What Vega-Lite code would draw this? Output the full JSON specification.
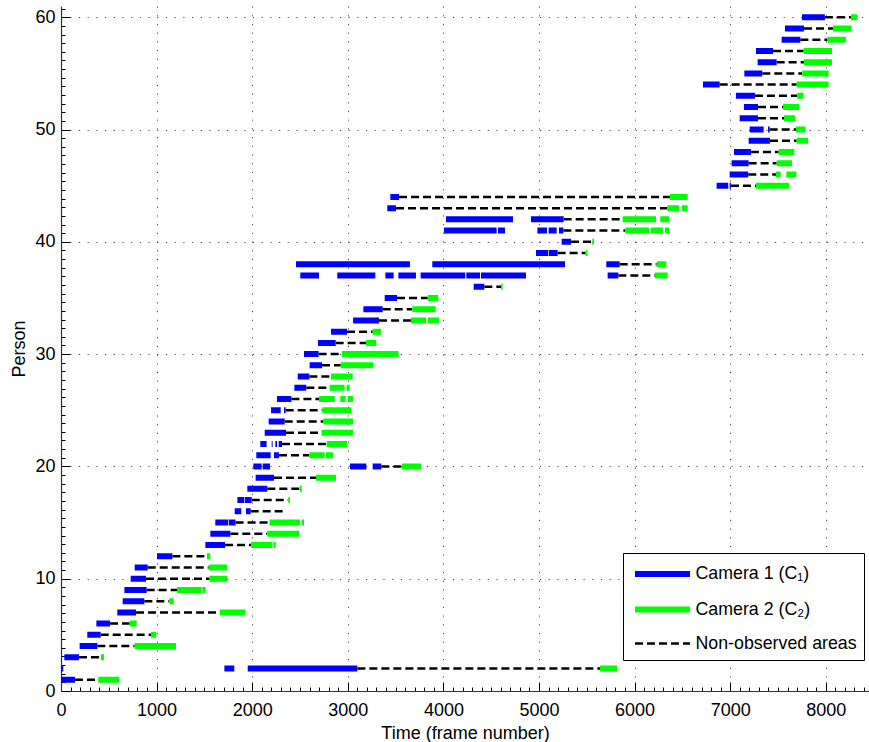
{
 "$schema": "https://vega.github.io/schema/vega-lite/v6.json",
 "width": 808, "height": 685,
 "autosize": "none",
 "padding": {"left": 61, "top": 6, "right": 0, "bottom": 51},
 "config": {"view": {"stroke": null}, "font": "Liberation Sans"},
 "data": {"values": [
  {"p":1,"s":146,"e":390,"t":"N"},{"p":1,"s":0,"e":146,"t":"C1"},{"p":1,"s":390,"e":610,"t":"C2"},
  {"p":2,"s":3100,"e":5638,"t":"N"},{"p":2,"s":0,"e":24,"t":"C1"},{"p":2,"s":1709,"e":1813,"t":"C1"},{"p":2,"s":1953,"e":3100,"t":"C1"},{"p":2,"s":5638,"e":5816,"t":"C2"},
  {"p":3,"s":188,"e":418,"t":"N"},{"p":3,"s":35,"e":188,"t":"C1"},{"p":3,"s":418,"e":450,"t":"C2"},
  {"p":4,"s":380,"e":771,"t":"N"},{"p":4,"s":195,"e":380,"t":"C1"},{"p":4,"s":771,"e":1203,"t":"C2"},
  {"p":5,"s":415,"e":941,"t":"N"},{"p":5,"s":275,"e":415,"t":"C1"},{"p":5,"s":941,"e":997,"t":"C2"},
  {"p":6,"s":513,"e":718,"t":"N"},{"p":6,"s":370,"e":513,"t":"C1"},{"p":6,"s":718,"e":792,"t":"C2"},
  {"p":7,"s":785,"e":1660,"t":"N"},{"p":7,"s":589,"e":785,"t":"C1"},{"p":7,"s":1660,"e":1925,"t":"C2"},
  {"p":8,"s":872,"e":1133,"t":"N"},{"p":8,"s":645,"e":872,"t":"C1"},{"p":8,"s":1133,"e":1179,"t":"C2"},
  {"p":9,"s":896,"e":1213,"t":"N"},{"p":9,"s":663,"e":896,"t":"C1"},{"p":9,"s":1213,"e":1471,"t":"C2"},{"p":9,"s":1478,"e":1513,"t":"C2"},
  {"p":10,"s":889,"e":1552,"t":"N"},{"p":10,"s":729,"e":889,"t":"C1"},{"p":10,"s":1552,"e":1737,"t":"C2"},
  {"p":11,"s":907,"e":1545,"t":"N"},{"p":11,"s":771,"e":907,"t":"C1"},{"p":11,"s":1545,"e":1737,"t":"C2"},
  {"p":12,"s":1165,"e":1527,"t":"N"},{"p":12,"s":1004,"e":1165,"t":"C1"},{"p":12,"s":1527,"e":1562,"t":"C2"},
  {"p":13,"s":1716,"e":1988,"t":"N"},{"p":13,"s":1510,"e":1716,"t":"C1"},{"p":13,"s":1988,"e":2212,"t":"C2"},{"p":13,"s":2222,"e":2246,"t":"C2"},
  {"p":14,"s":1771,"e":2158,"t":"N"},{"p":14,"s":1562,"e":1771,"t":"C1"},{"p":14,"s":2158,"e":2493,"t":"C2"},
  {"p":15,"s":1826,"e":2182,"t":"N"},{"p":15,"s":1614,"e":1750,"t":"C1"},{"p":15,"s":1757,"e":1826,"t":"C1"},{"p":15,"s":2182,"e":2500,"t":"C2"},{"p":15,"s":2516,"e":2542,"t":"C2"},
  {"p":16,"s":1984,"e":2361,"t":"N"},{"p":16,"s":1817,"e":1886,"t":"C1"},{"p":16,"s":1935,"e":1984,"t":"C1"},
  {"p":17,"s":1995,"e":2378,"t":"N"},{"p":17,"s":1845,"e":1918,"t":"C1"},{"p":17,"s":1925,"e":1995,"t":"C1"},{"p":17,"s":2378,"e":2395,"t":"C2"},
  {"p":18,"s":2158,"e":2500,"t":"N"},{"p":18,"s":1949,"e":2158,"t":"C1"},{"p":18,"s":2500,"e":2518,"t":"C2"},
  {"p":19,"s":2228,"e":2668,"t":"N"},{"p":19,"s":2036,"e":2228,"t":"C1"},{"p":19,"s":2668,"e":2877,"t":"C2"},
  {"p":20,"s":3351,"e":3567,"t":"N"},{"p":20,"s":2012,"e":2099,"t":"C1"},{"p":20,"s":2110,"e":2186,"t":"C1"},{"p":20,"s":3023,"e":3194,"t":"C1"},{"p":20,"s":3260,"e":3351,"t":"C1"},{"p":20,"s":3567,"e":3766,"t":"C2"},
  {"p":21,"s":2280,"e":2598,"t":"N"},{"p":21,"s":2043,"e":2193,"t":"C1"},{"p":21,"s":2228,"e":2280,"t":"C1"},{"p":21,"s":2598,"e":2758,"t":"C2"},{"p":21,"s":2772,"e":2845,"t":"C2"},
  {"p":22,"s":2312,"e":2779,"t":"N"},{"p":22,"s":2085,"e":2151,"t":"C1"},{"p":22,"s":2204,"e":2214,"t":"C1"},{"p":22,"s":2242,"e":2260,"t":"C1"},{"p":22,"s":2277,"e":2312,"t":"C1"},{"p":22,"s":2779,"e":2995,"t":"C2"},
  {"p":23,"s":2354,"e":2727,"t":"N"},{"p":23,"s":2131,"e":2354,"t":"C1"},{"p":23,"s":2727,"e":3055,"t":"C2"},
  {"p":24,"s":2340,"e":2744,"t":"N"},{"p":24,"s":2172,"e":2340,"t":"C1"},{"p":24,"s":2744,"e":3055,"t":"C2"},
  {"p":25,"s":2350,"e":2734,"t":"N"},{"p":25,"s":2197,"e":2298,"t":"C1"},{"p":25,"s":2333,"e":2350,"t":"C1"},{"p":25,"s":2734,"e":3037,"t":"C2"},
  {"p":26,"s":2410,"e":2699,"t":"N"},{"p":26,"s":2259,"e":2410,"t":"C1"},{"p":26,"s":2699,"e":2863,"t":"C2"},{"p":26,"s":2922,"e":2978,"t":"C2"},{"p":26,"s":2999,"e":3055,"t":"C2"},
  {"p":27,"s":2566,"e":2810,"t":"N"},{"p":27,"s":2441,"e":2566,"t":"C1"},{"p":27,"s":2810,"e":2967,"t":"C2"},{"p":27,"s":2988,"e":3020,"t":"C2"},
  {"p":28,"s":2598,"e":2824,"t":"N"},{"p":28,"s":2476,"e":2598,"t":"C1"},{"p":28,"s":2824,"e":3051,"t":"C2"},
  {"p":29,"s":2730,"e":2926,"t":"N"},{"p":29,"s":2601,"e":2730,"t":"C1"},{"p":29,"s":2926,"e":3267,"t":"C2"},
  {"p":30,"s":2695,"e":2940,"t":"N"},{"p":30,"s":2542,"e":2695,"t":"C1"},{"p":30,"s":2940,"e":3532,"t":"C2"},
  {"p":31,"s":2873,"e":3191,"t":"N"},{"p":31,"s":2688,"e":2873,"t":"C1"},{"p":31,"s":3191,"e":3299,"t":"C2"},
  {"p":32,"s":2992,"e":3260,"t":"N"},{"p":32,"s":2824,"e":2992,"t":"C1"},{"p":32,"s":3260,"e":3347,"t":"C2"},
  {"p":33,"s":3327,"e":3661,"t":"N"},{"p":33,"s":3055,"e":3327,"t":"C1"},{"p":33,"s":3661,"e":3818,"t":"C2"},{"p":33,"s":3839,"e":3954,"t":"C2"},
  {"p":34,"s":3365,"e":3675,"t":"N"},{"p":34,"s":3163,"e":3365,"t":"C1"},{"p":34,"s":3675,"e":3919,"t":"C2"},
  {"p":35,"s":3515,"e":3836,"t":"N"},{"p":35,"s":3386,"e":3515,"t":"C1"},{"p":35,"s":3836,"e":3947,"t":"C2"},
  {"p":36,"s":4428,"e":4603,"t":"N"},{"p":36,"s":4317,"e":4428,"t":"C1"},{"p":36,"s":4603,"e":4620,"t":"C2"},
  {"p":37,"s":5830,"e":6213,"t":"N"},{"p":37,"s":2503,"e":2699,"t":"C1"},{"p":37,"s":2890,"e":3288,"t":"C1"},{"p":37,"s":3393,"e":3480,"t":"C1"},{"p":37,"s":3529,"e":3713,"t":"C1"},{"p":37,"s":3762,"e":4229,"t":"C1"},{"p":37,"s":4240,"e":4383,"t":"C1"},{"p":37,"s":4393,"e":4864,"t":"C1"},{"p":37,"s":5718,"e":5830,"t":"C1"},{"p":37,"s":6213,"e":6346,"t":"C2"},
  {"p":38,"s":5844,"e":6231,"t":"N"},{"p":38,"s":2458,"e":3650,"t":"C1"},{"p":38,"s":3884,"e":5272,"t":"C1"},{"p":38,"s":5704,"e":5844,"t":"C1"},{"p":38,"s":6231,"e":6332,"t":"C2"},
  {"p":39,"s":5195,"e":5488,"t":"N"},{"p":39,"s":4969,"e":5094,"t":"C1"},{"p":39,"s":5101,"e":5195,"t":"C1"},{"p":39,"s":5488,"e":5506,"t":"C2"},
  {"p":40,"s":5335,"e":5558,"t":"N"},{"p":40,"s":5237,"e":5335,"t":"C1"},{"p":40,"s":5558,"e":5575,"t":"C2"},
  {"p":41,"s":5255,"e":5903,"t":"N"},{"p":41,"s":4006,"e":4557,"t":"C1"},{"p":41,"s":4571,"e":4644,"t":"C1"},{"p":41,"s":4983,"e":5084,"t":"C1"},{"p":41,"s":5101,"e":5185,"t":"C1"},{"p":41,"s":5209,"e":5255,"t":"C1"},{"p":41,"s":5903,"e":6151,"t":"C2"},{"p":41,"s":6168,"e":6297,"t":"C2"},{"p":41,"s":6318,"e":6360,"t":"C2"},
  {"p":42,"s":5258,"e":5875,"t":"N"},{"p":42,"s":4027,"e":4728,"t":"C1"},{"p":42,"s":4916,"e":5258,"t":"C1"},{"p":42,"s":5875,"e":6224,"t":"C2"},{"p":42,"s":6269,"e":6360,"t":"C2"},
  {"p":43,"s":3504,"e":6342,"t":"N"},{"p":43,"s":3413,"e":3504,"t":"C1"},{"p":43,"s":6342,"e":6465,"t":"C2"},{"p":43,"s":6496,"e":6555,"t":"C2"},
  {"p":44,"s":3536,"e":6370,"t":"N"},{"p":44,"s":3445,"e":3536,"t":"C1"},{"p":44,"s":6370,"e":6555,"t":"C2"},
  {"p":45,"s":7008,"e":7270,"t":"N"},{"p":45,"s":6858,"e":6980,"t":"C1"},{"p":45,"s":6994,"e":7008,"t":"C1"},{"p":45,"s":7270,"e":7615,"t":"C2"},
  {"p":46,"s":7189,"e":7479,"t":"N"},{"p":46,"s":6994,"e":7189,"t":"C1"},{"p":46,"s":7479,"e":7528,"t":"C2"},{"p":46,"s":7587,"e":7692,"t":"C2"},
  {"p":47,"s":7193,"e":7486,"t":"N"},{"p":47,"s":7015,"e":7193,"t":"C1"},{"p":47,"s":7486,"e":7646,"t":"C2"},
  {"p":48,"s":7217,"e":7507,"t":"N"},{"p":48,"s":7040,"e":7217,"t":"C1"},{"p":48,"s":7507,"e":7671,"t":"C2"},
  {"p":49,"s":7416,"e":7695,"t":"N"},{"p":49,"s":7193,"e":7416,"t":"C1"},{"p":49,"s":7695,"e":7814,"t":"C2"},
  {"p":50,"s":7413,"e":7688,"t":"N"},{"p":50,"s":7204,"e":7350,"t":"C1"},{"p":50,"s":7395,"e":7413,"t":"C1"},{"p":50,"s":7688,"e":7789,"t":"C2"},
  {"p":51,"s":7291,"e":7563,"t":"N"},{"p":51,"s":7099,"e":7291,"t":"C1"},{"p":51,"s":7563,"e":7681,"t":"C2"},
  {"p":52,"s":7291,"e":7552,"t":"N"},{"p":52,"s":7144,"e":7291,"t":"C1"},{"p":52,"s":7552,"e":7723,"t":"C2"},
  {"p":53,"s":7259,"e":7702,"t":"N"},{"p":53,"s":7060,"e":7259,"t":"C1"},{"p":53,"s":7702,"e":7768,"t":"C2"},
  {"p":54,"s":6890,"e":7695,"t":"N"},{"p":54,"s":6715,"e":6890,"t":"C1"},{"p":54,"s":7695,"e":8030,"t":"C2"},
  {"p":55,"s":7336,"e":7754,"t":"N"},{"p":55,"s":7148,"e":7336,"t":"C1"},{"p":55,"s":7754,"e":8030,"t":"C2"},
  {"p":56,"s":7486,"e":7772,"t":"N"},{"p":56,"s":7287,"e":7486,"t":"C1"},{"p":56,"s":7772,"e":8065,"t":"C2"},
  {"p":57,"s":7448,"e":7768,"t":"N"},{"p":57,"s":7270,"e":7448,"t":"C1"},{"p":57,"s":7768,"e":8065,"t":"C2"},
  {"p":58,"s":7734,"e":8019,"t":"N"},{"p":58,"s":7538,"e":7734,"t":"C1"},{"p":58,"s":8019,"e":8211,"t":"C2"},
  {"p":59,"s":7772,"e":8075,"t":"N"},{"p":59,"s":7573,"e":7772,"t":"C1"},{"p":59,"s":8075,"e":8270,"t":"C2"},
  {"p":60,"s":7991,"e":8263,"t":"N"},{"p":60,"s":7751,"e":7991,"t":"C1"},{"p":60,"s":8263,"e":8330,"t":"C2"}
 ]},
 "mark": {"type": "rule", "strokeCap": "butt"},
 "encoding": {
  "x": {"field": "s", "type": "quantitative", "title": "Time (frame number)",
   "scale": {"domain": [0, 8452], "nice": false, "zero": false},
   "axis": {
    "values": [0,100,200,300,400,500,600,700,800,900,1000,1100,1200,1300,1400,1500,1600,1700,1800,1900,2000,2100,2200,2300,2400,2500,2600,2700,2800,2900,3000,3100,3200,3300,3400,3500,3600,3700,3800,3900,4000,4100,4200,4300,4400,4500,4600,4700,4800,4900,5000,5100,5200,5300,5400,5500,5600,5700,5800,5900,6000,6100,6200,6300,6400,6500,6600,6700,6800,6900,7000,7100,7200,7300,7400,7500,7600,7700,7800,7900,8000,8100,8200,8300,8400],
    "labelExpr": "datum.value % 1000 === 0 ? '' + datum.value : ''",
    "labelOverlap": false, "labelFlush": false,
    "tickSize": {"condition": {"test": "datum.value % 1000 === 0", "value": -9}, "value": -4},
    "grid": true, "gridColor": "#000", "gridDash": [1.2, 7.5],
    "gridOpacity": {"condition": {"test": "datum.value % 1000 === 0 && datum.value > 0", "value": 0.7}, "value": 0},
    "tickColor": "#000", "domainColor": "#333", "domainWidth": 1.2,
    "labelFontSize": 18, "labelColor": "#000", "labelPadding": 19,
    "titleFontSize": 18, "titleFontWeight": "normal", "titleColor": "#000", "titlePadding": 0
   }},
  "x2": {"field": "e"},
  "y": {"field": "p", "type": "quantitative", "title": "Person",
   "scale": {"domain": [0, 61], "nice": false},
   "axis": {
    "values": [0,0.769,1.538,2.308,3.077,3.846,4.615,5.385,6.154,6.923,7.692,8.462,9.231,10,10.769,11.538,12.308,13.077,13.846,14.615,15.385,16.154,16.923,17.692,18.462,19.231,20,20.769,21.538,22.308,23.077,23.846,24.615,25.385,26.154,26.923,27.692,28.462,29.231,30,30.769,31.538,32.308,33.077,33.846,34.615,35.385,36.154,36.923,37.692,38.462,39.231,40,40.769,41.538,42.308,43.077,43.846,44.615,45.385,46.154,46.923,47.692,48.462,49.231,50,50.769,51.538,52.308,53.077,53.846,54.615,55.385,56.154,56.923,57.692,58.462,59.231,60,60.769],
    "labelExpr": "datum.value % 10 === 0 ? '' + datum.value : ''",
    "labelOverlap": false, "labelFlush": false,
    "tickSize": {"condition": {"test": "datum.value % 10 === 0", "value": -9}, "value": -4},
    "grid": true, "gridColor": "#000", "gridDash": [1.2, 7.5],
    "gridOpacity": {"condition": {"test": "datum.value % 10 === 0 && datum.value > 0", "value": 0.7}, "value": 0},
    "tickColor": "#000", "domainColor": "#333", "domainWidth": 1.2,
    "labelFontSize": 18, "labelColor": "#000", "labelPadding": 15,
    "titleFontSize": 18, "titleFontWeight": "normal", "titleColor": "#000", "titlePadding": 6
   }},
  "color": {"field": "t", "type": "nominal",
   "scale": {"domain": ["C1", "C2", "N"], "range": ["#0000ff", "#00ff00", "#000000"]},
   "legend": {
    "orient": "none", "legendX": 562, "legendY": 547, "title": null,
    "labelExpr": "datum.value === 'C1' ? 'Camera 1 (C₁)' : datum.value === 'C2' ? 'Camera 2 (C₂)' : 'Non-observed areas'",
    "labelFontSize": 17.8, "labelColor": "#000", "labelLimit": 300,
    "symbolType": "M-2.5,0H2.5", "symbolSize": 484, "symbolOffset": 18.5,
    "fillColor": "#ffffff", "strokeColor": "#000000", "padding": 7,
    "rowPadding": 9.5, "labelOffset": 19
   }},
  "strokeDash": {"field": "t", "type": "nominal",
   "scale": {"domain": ["C1", "C2", "N"], "range": [[1, 0], [1, 0], [8, 4]]}},
  "strokeWidth": {"field": "t", "type": "nominal",
   "scale": {"type": "ordinal", "domain": ["C1", "C2", "N"], "range": [6, 6, 2.5]}}
 }
}
